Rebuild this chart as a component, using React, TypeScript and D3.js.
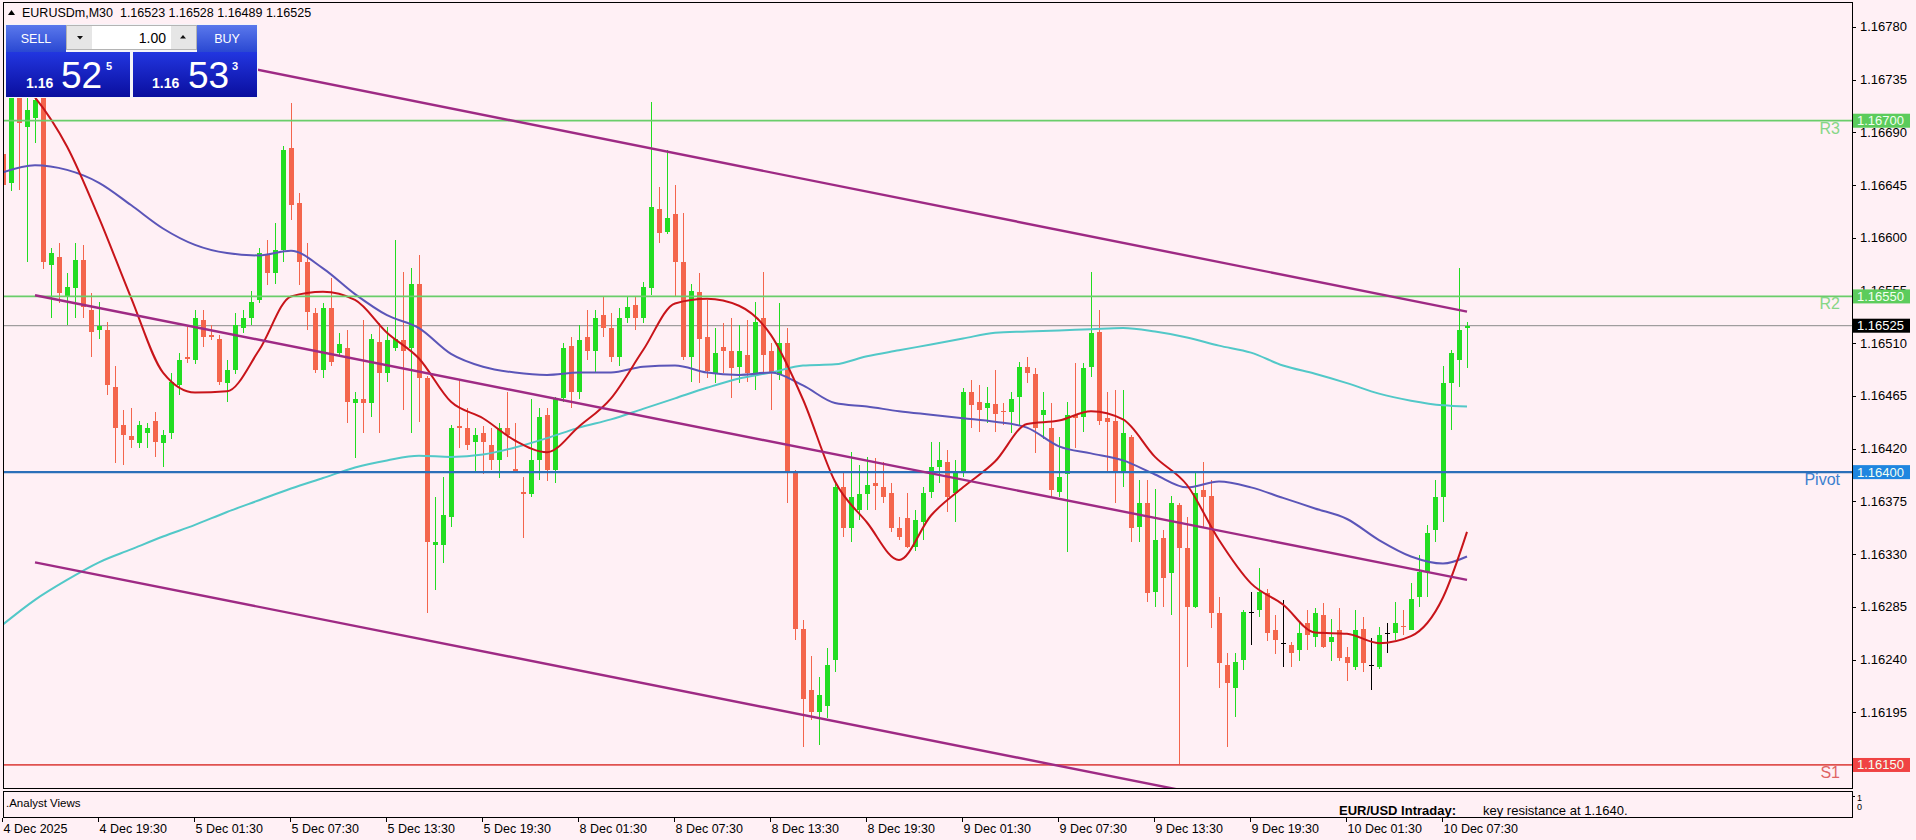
import React from 'react';
import * as d3 from 'd3';

// M30 bars, left to right
const opens = [
  1.16672, 1.16647, 1.16745, 1.16695, 1.16702, 1.16728, 1.16577, 1.16584, 1.16550, 1.16557,
  1.16581, 1.16538, 1.16521, 1.16521, 1.16473, 1.16440, 1.16431, 1.16425, 1.16433, 1.16444,
  1.16425, 1.16433, 1.16474, 1.16498, 1.16496, 1.16530, 1.16517, 1.16514, 1.16476, 1.16487,
  1.16523, 1.16532, 1.16547, 1.16585, 1.16570, 1.16590, 1.16677, 1.16630, 1.16579, 1.16536,
  1.16487, 1.16540, 1.16502, 1.16506, 1.16459, 1.16462, 1.16459, 1.16511, 1.16485, 1.16506,
  1.16513, 1.16506, 1.16561, 1.16480, 1.16338, 1.16338, 1.16362, 1.16439, 1.16438, 1.16426,
  1.16433, 1.16423, 1.16410, 1.16438, 1.16403, 1.16383, 1.16381, 1.16410, 1.16449, 1.16402,
  1.16463, 1.16508, 1.16468, 1.16515, 1.16503, 1.16534, 1.16523, 1.16498, 1.16532, 1.16543,
  1.16532, 1.16557, 1.16625, 1.16605, 1.16620, 1.16579, 1.16498, 1.16554, 1.16515, 1.16485,
  1.16507, 1.16503, 1.16490, 1.16500, 1.16483, 1.16532, 1.16503, 1.16483, 1.16510, 1.16399,
  1.16266, 1.16214, 1.16195, 1.16200, 1.16240, 1.16387, 1.16352, 1.16368, 1.16381, 1.16391,
  1.16387, 1.16382, 1.16352, 1.16361, 1.16336, 1.16357, 1.16383, 1.16404, 1.16409, 1.16382,
  1.16399, 1.16468, 1.16460, 1.16455, 1.16458, 1.16452, 1.16451, 1.16464, 1.16490, 1.16484,
  1.16449, 1.16438, 1.16383, 1.16398, 1.16449, 1.16447, 1.16490, 1.16520, 1.16446, 1.16444,
  1.16400, 1.16430, 1.16353, 1.16374, 1.16298, 1.16344, 1.16314, 1.16372, 1.16335, 1.16285,
  1.16385, 1.16380, 1.16280, 1.16235, 1.16216, 1.16240, 1.16281, 1.16282, 1.16297, 1.16265,
  1.16254, 1.16252, 1.16248, 1.16271, 1.16259, 1.16278, 1.16255, 1.16265, 1.16242, 1.16234,
  1.16266, 1.16235, 1.16234, 1.16263, 1.16263, 1.16269, 1.16265, 1.16293, 1.16315, 1.16351,
  1.16379, 1.16476, 1.16496, 1.16523,
];
const highs = [
  1.16680, 1.16760, 1.16770, 1.16730, 1.16745, 1.16745, 1.16591, 1.16596, 1.16570, 1.16596,
  1.16594, 1.16553, 1.16545, 1.16528, 1.16491, 1.16453, 1.16455, 1.16444, 1.16442, 1.16451,
  1.16436, 1.16485, 1.16502, 1.16524, 1.16538, 1.16538, 1.16526, 1.16517, 1.16496, 1.16536,
  1.16538, 1.16555, 1.16591, 1.16598, 1.16613, 1.16678, 1.16715, 1.16638, 1.16596, 1.16540,
  1.16544, 1.16566, 1.16519, 1.16521, 1.16468, 1.16530, 1.16518, 1.16527, 1.16524, 1.16598,
  1.16571, 1.16574, 1.16585, 1.16482, 1.16379, 1.16396, 1.16440, 1.16479, 1.16455, 1.16438,
  1.16439, 1.16438, 1.16442, 1.16468, 1.16442, 1.16396, 1.16462, 1.16455, 1.16455, 1.16464,
  1.16510, 1.16515, 1.16526, 1.16538, 1.16538, 1.16550, 1.16536, 1.16540, 1.16550, 1.16550,
  1.16562, 1.16716, 1.16643, 1.16675, 1.16645, 1.16621, 1.16561, 1.16570, 1.16547, 1.16523,
  1.16527, 1.16532, 1.16526, 1.16530, 1.16545, 1.16571, 1.16510, 1.16544, 1.16523, 1.16402,
  1.16274, 1.16243, 1.16225, 1.16250, 1.16391, 1.16400, 1.16417, 1.16406, 1.16413, 1.16412,
  1.16409, 1.16391, 1.16362, 1.16382, 1.16368, 1.16387, 1.16426, 1.16426, 1.16419, 1.16410,
  1.16472, 1.16479, 1.16474, 1.16473, 1.16487, 1.16459, 1.16468, 1.16494, 1.16498, 1.16489,
  1.16468, 1.16459, 1.16430, 1.16460, 1.16493, 1.16493, 1.16571, 1.16538, 1.16468, 1.16470,
  1.16470, 1.16432, 1.16393, 1.16393, 1.16386, 1.16351, 1.16380, 1.16374, 1.16362, 1.16400,
  1.16409, 1.16393, 1.16293, 1.16246, 1.16246, 1.16282, 1.16298, 1.16318, 1.16300, 1.16278,
  1.16291, 1.16255, 1.16272, 1.16282, 1.16284, 1.16288, 1.16275, 1.16284, 1.16251, 1.16282,
  1.16276, 1.16258, 1.16268, 1.16271, 1.16289, 1.16282, 1.16305, 1.16329, 1.16355, 1.16393,
  1.16491, 1.16504, 1.16574, 1.16528,
];
const lows = [
  1.16640, 1.16640, 1.16641, 1.16579, 1.16681, 1.16573, 1.16532, 1.16544, 1.16526, 1.16532,
  1.16532, 1.16498, 1.16514, 1.16466, 1.16408, 1.16406, 1.16421, 1.16421, 1.16421, 1.16413,
  1.16404, 1.16428, 1.16466, 1.16493, 1.16492, 1.16507, 1.16513, 1.16474, 1.16460, 1.16484,
  1.16519, 1.16526, 1.16544, 1.16560, 1.16561, 1.16579, 1.16615, 1.16560, 1.16521, 1.16485,
  1.16480, 1.16491, 1.16498, 1.16442, 1.16412, 1.16433, 1.16447, 1.16433, 1.16477, 1.16503,
  1.16453, 1.16433, 1.16443, 1.16280, 1.16299, 1.16322, 1.16353, 1.16421, 1.16419, 1.16399,
  1.16398, 1.16402, 1.16395, 1.16413, 1.16399, 1.16344, 1.16379, 1.16393, 1.16392, 1.16391,
  1.16460, 1.16455, 1.16462, 1.16496, 1.16485, 1.16515, 1.16494, 1.16491, 1.16527, 1.16521,
  1.16527, 1.16551, 1.16596, 1.16603, 1.16550, 1.16496, 1.16477, 1.16476, 1.16480, 1.16476,
  1.16485, 1.16463, 1.16476, 1.16477, 1.16470, 1.16485, 1.16453, 1.16479, 1.16374, 1.16257,
  1.16165, 1.16188, 1.16167, 1.16190, 1.16229, 1.16345, 1.16340, 1.16359, 1.16368, 1.16368,
  1.16374, 1.16349, 1.16342, 1.16335, 1.16333, 1.16342, 1.16378, 1.16391, 1.16366, 1.16357,
  1.16396, 1.16438, 1.16434, 1.16442, 1.16434, 1.16440, 1.16433, 1.16440, 1.16476, 1.16416,
  1.16428, 1.16379, 1.16379, 1.16332, 1.16421, 1.16434, 1.16481, 1.16440, 1.16400, 1.16374,
  1.16387, 1.16340, 1.16340, 1.16289, 1.16285, 1.16285, 1.16278, 1.16150, 1.16234, 1.16284,
  1.16353, 1.16267, 1.16216, 1.16165, 1.16191, 1.16231, 1.16252, 1.16276, 1.16256, 1.16245,
  1.16234, 1.16234, 1.16239, 1.16248, 1.16251, 1.16250, 1.16239, 1.16239, 1.16222, 1.16231,
  1.16229, 1.16214, 1.16232, 1.16246, 1.16257, 1.16261, 1.16265, 1.16285, 1.16293, 1.16340,
  1.16357, 1.16436, 1.16473, 1.16489,
];
const closes = [
  1.16645, 1.16735, 1.16698, 1.16709, 1.16718, 1.16579, 1.16587, 1.16553, 1.16558, 1.16581,
  1.16541, 1.16520, 1.16525, 1.16474, 1.16438, 1.16432, 1.16427, 1.16440, 1.16438, 1.16426,
  1.16432, 1.16477, 1.16496, 1.16497, 1.16532, 1.16515, 1.16515, 1.16477, 1.16487, 1.16526,
  1.16532, 1.16545, 1.16587, 1.16570, 1.16590, 1.16675, 1.16628, 1.16579, 1.16537, 1.16487,
  1.16540, 1.16494, 1.16509, 1.16460, 1.16462, 1.16459, 1.16514, 1.16485, 1.16513, 1.16514,
  1.16503, 1.16561, 1.16480, 1.16340, 1.16340, 1.16363, 1.16438, 1.16438, 1.16423, 1.16432,
  1.16426, 1.16410, 1.16438, 1.16432, 1.16401, 1.16381, 1.16410, 1.16447, 1.16402, 1.16463,
  1.16506, 1.16468, 1.16513, 1.16503, 1.16532, 1.16523, 1.16498, 1.16532, 1.16541, 1.16532,
  1.16558, 1.16626, 1.16604, 1.16617, 1.16579, 1.16498, 1.16555, 1.16514, 1.16486, 1.16502,
  1.16503, 1.16489, 1.16503, 1.16485, 1.16528, 1.16500, 1.16485, 1.16510, 1.16400, 1.16266,
  1.16206, 1.16195, 1.16210, 1.16235, 1.16387, 1.16352, 1.16379, 1.16381, 1.16389, 1.16388,
  1.16379, 1.16352, 1.16345, 1.16336, 1.16359, 1.16382, 1.16404, 1.16410, 1.16379, 1.16399,
  1.16468, 1.16457, 1.16453, 1.16459, 1.16450, 1.16451, 1.16462, 1.16490, 1.16485, 1.16438,
  1.16453, 1.16385, 1.16396, 1.16449, 1.16446, 1.16489, 1.16519, 1.16444, 1.16443, 1.16400,
  1.16433, 1.16352, 1.16374, 1.16297, 1.16342, 1.16310, 1.16374, 1.16335, 1.16285, 1.16382,
  1.16379, 1.16280, 1.16237, 1.16220, 1.16238, 1.16281, 1.16281, 1.16298, 1.16263, 1.16257,
  1.16254, 1.16246, 1.16263, 1.16261, 1.16280, 1.16251, 1.16259, 1.16241, 1.16237, 1.16265,
  1.16237, 1.16235, 1.16261, 1.16263, 1.16271, 1.16268, 1.16292, 1.16315, 1.16348, 1.16379,
  1.16476, 1.16502, 1.16521, 1.16525,
];

// moving averages, sampled every 4 bars
const fastMa = [
  1.16735, 1.16720, 1.16678, 1.16617, 1.16549, 1.16485, 1.16468, 1.16469, 1.16504, 1.16550,
  1.16554, 1.16547, 1.16519, 1.16497, 1.16460, 1.16446, 1.16427, 1.16417, 1.16439, 1.16463,
  1.16504, 1.16544, 1.16548, 1.16542, 1.16517, 1.16462, 1.16392, 1.16357, 1.16325, 1.16363,
  1.16387, 1.16409, 1.16441, 1.16444, 1.16452, 1.16445, 1.16413, 1.16389, 1.16342, 1.16305,
  1.16287, 1.16263, 1.16262, 1.16254, 1.16260, 1.16293, 1.16349,
];
const midMa = [
  1.16656, 1.16662, 1.16658, 1.16647, 1.16628, 1.16608, 1.16594, 1.16587, 1.16585, 1.16589,
  1.16574, 1.16552, 1.16534, 1.16523, 1.16501, 1.16490, 1.16485, 1.16483, 1.16485, 1.16485,
  1.16490, 1.16491, 1.16485, 1.16483, 1.16485, 1.16474, 1.16459, 1.16456, 1.16452, 1.16449,
  1.16446, 1.16443, 1.16438, 1.16422, 1.16416, 1.16410, 1.16398, 1.16387, 1.16392, 1.16387,
  1.16378, 1.16369, 1.16360, 1.16342, 1.16328, 1.16322, 1.16328,
];
const slowMa = [
  1.16270, 1.16291, 1.16308, 1.16323, 1.16334, 1.16345, 1.16355, 1.16366, 1.16376, 1.16386,
  1.16395, 1.16404, 1.16410, 1.16414, 1.16413, 1.16415, 1.16421, 1.16429, 1.16438, 1.16445,
  1.16454, 1.16463, 1.16472, 1.16480, 1.16485, 1.16491, 1.16492, 1.16499, 1.16504, 1.16509,
  1.16514, 1.16519, 1.16520, 1.16521, 1.16522, 1.16523, 1.16520, 1.16515, 1.16508, 1.16502,
  1.16491, 1.16484, 1.16476, 1.16467, 1.16461, 1.16457, 1.16456,
];

const levelNames = ['R3', 'R2', 'Pivot', 'S1'];
const levelPrices = [1.167, 1.1655, 1.164, 1.1615];
const levelColors = ['#6acd6a', '#6acd6a', '#2b6fb9', '#e0524f'];
const levelText = ['#86d686', '#86d686', '#3d80cf', '#e06464'];
const levelTag = ['#5ccc5c', '#5ccc5c', '#1f86e0', '#f04343'];

// channel lines: [start bar, start price, end bar, end price]
const trendStartBars = [30, 4, 4];
const trendStartPrices = [1.16746, 1.16551, 1.16323];
const trendEndBars = [183, 183, 183];
const trendEndPrices = [1.16537, 1.16308, 1.1608];

const priceTicks = [
  1.1678, 1.16735, 1.1669, 1.16645, 1.166, 1.16555, 1.1651, 1.16465,
  1.1642, 1.16375, 1.1633, 1.16285, 1.1624, 1.16195, 1.1615,
];
const timeLabels = [
  '4 Dec 2025', '4 Dec 19:30', '5 Dec 01:30', '5 Dec 07:30', '5 Dec 13:30', '5 Dec 19:30',
  '8 Dec 01:30', '8 Dec 07:30', '8 Dec 13:30', '8 Dec 19:30', '9 Dec 01:30', '9 Dec 07:30',
  '9 Dec 13:30', '9 Dec 19:30', '10 Dec 01:30', '10 Dec 07:30',
];
const lastPrice = 1.16525;

const FONT = "'Liberation Sans', Arial, sans-serif";
const BG = '#fff0f5';
const UP = '#22dd22';
const DOWN = '#f4654c';

const L = 3, R = 1852, T = 2, B = 788;

export default function App() {
  const x = d3.scaleLinear().domain([0, opens.length - 1]).range([3, 1467]);
  const y = d3.scaleLinear().domain([1.1613, 1.16801]).range([788.4, 2.4]);

  const maBars = d3.range(0, 181, 4).concat([183]);
  const fastBars = [2].concat(d3.range(4, 181, 4), [183]);
  const path = (bs: number[], vals: number[]) =>
    d3.line<number>().x((_, j) => x(bs[j])).y(v => y(v)).curve(d3.curveMonotoneX)(vals) || '';

  const timeBars = timeLabels.map((_, j) => j * 12);

  return (
    <svg width={1916} height={840} style={{ position: 'absolute', left: 0, top: 0 }} fontFamily={FONT}>
      <defs>
        <clipPath id="plot"><rect x={L} y={T} width={R - L} height={B - T} /></clipPath>
        <clipPath id="sub"><rect x={L} y={791} width={R - L} height={26} /></clipPath>
        <linearGradient id="btn" x1="0" y1="0" x2="0" y2="1">
          <stop offset="0" stopColor="#5a78ec" />
          <stop offset="1" stopColor="#2a48d2" />
        </linearGradient>
        <linearGradient id="px" x1="0" y1="0" x2="0" y2="1">
          <stop offset="0" stopColor="#2236e0" />
          <stop offset="1" stopColor="#0a0e9e" />
        </linearGradient>
      </defs>
      <rect x={0} y={0} width={1916} height={840} fill={BG} />

      <g clipPath="url(#plot)">
        {/* current price line */}
        <line x1={L} x2={R} y1={y(lastPrice)} y2={y(lastPrice)} stroke="#8a8a8a" strokeWidth={1} />

        {/* candles */}
        {opens.map((o, i) => {
          const c = closes[i];
          const cx = Math.round(x(i));
          const col = c > o ? UP : c < o ? DOWN : '#000';
          const top = y(Math.max(o, c));
          const bot = y(Math.min(o, c));
          return (
            <g key={i} shapeRendering="crispEdges">
              <line x1={cx + 0.5} x2={cx + 0.5} y1={y(highs[i])} y2={y(lows[i])} stroke={col} strokeWidth={1} />
              <rect x={cx - 2} y={top} width={5} height={Math.max(1, bot - top)} fill={col} />
            </g>
          );
        })}

        {/* moving averages */}
        <path d={path(maBars, slowMa)} fill="none" stroke="#52c8c8" strokeWidth={2} />
        <path d={path(maBars, midMa)} fill="none" stroke="#5b55b8" strokeWidth={2} />
        <path d={path(fastBars, fastMa)} fill="none" stroke="#c8141a" strokeWidth={2} />

        {/* levels */}
        {levelPrices.map((p, j) => (
          <g key={levelNames[j]}>
            <line x1={L} x2={R} y1={y(p)} y2={y(p)} stroke={levelColors[j]} strokeWidth={j === 2 ? 2.2 : 1.7} />
            <text x={1840} y={y(p) + 13} textAnchor="end" fontSize={16} fill={levelText[j]}>{levelNames[j]}</text>
          </g>
        ))}

        {/* channel */}
        {trendStartBars.map((b, j) => (
          <line key={j} x1={x(b)} y1={y(trendStartPrices[j])} x2={x(trendEndBars[j])} y2={y(trendEndPrices[j])}
            stroke="#9e2a84" strokeWidth={2.4} />
        ))}
      </g>

      {/* frames */}
      <rect x={L + 0.5} y={T + 0.5} width={R - L} height={B - T} fill="none" stroke="#000" strokeWidth={1} />
      <rect x={L + 0.5} y={791.5} width={R - L} height={26} fill="none" stroke="#000" strokeWidth={1} />

      {/* header */}
      <path d="M8,15 L11.5,10 L15,15 Z" fill="#000" />
      <text x={22} y={17} fontSize={12.5} fill="#000" style={{ whiteSpace: 'pre' }}>
        {'EURUSDm,M30  1.16523 1.16528 1.16489 1.16525'}
      </text>

      {/* trade panel */}
      <g>
        <rect x={5} y={24} width={253} height={74} fill="#f4f4f8" />
        <rect x={6} y={25} width={60} height={27} fill="url(#btn)" />
        <text x={36} y={43} textAnchor="middle" fontSize={12.5} fill="#fff">SELL</text>
        <rect x={197} y={25} width={60} height={27} fill="url(#btn)" />
        <text x={227} y={43} textAnchor="middle" fontSize={12.5} fill="#fff">BUY</text>
        <rect x={66.5} y={25.5} width={130} height={24} fill="#fff" stroke="#b4b4b4" />
        <rect x={67} y={26} width={25} height={23} fill="#e6e6e6" />
        <rect x={171} y={26} width={25} height={23} fill="#e6e6e6" />
        <path d="M77,36 L83,36 L80,39.5 Z" fill="#111" />
        <path d="M180,38.5 L186,38.5 L183,35 Z" fill="#111" />
        <text x={166} y={43} textAnchor="end" fontSize={14} fill="#000">1.00</text>

        <rect x={6} y={52} width={124} height={45} fill="url(#px)" />
        <rect x={133} y={52} width={124} height={45} fill="url(#px)" />
        <text x={26} y={88} fontSize={14} fontWeight="bold" fill="#fff">1.16</text>
        <text x={61} y={88} fontSize={37} fill="#fff">52</text>
        <text x={106} y={70} fontSize={11} fontWeight="bold" fill="#fff">5</text>
        <text x={152} y={88} fontSize={14} fontWeight="bold" fill="#fff">1.16</text>
        <text x={188} y={88} fontSize={37} fill="#fff">53</text>
        <text x={232} y={70} fontSize={11} fontWeight="bold" fill="#fff">3</text>
      </g>

      {/* price axis */}
      {priceTicks.map(p => (
        <g key={p}>
          <line x1={R} x2={R + 4} y1={Math.round(y(p)) + 0.5} y2={Math.round(y(p)) + 0.5} stroke="#000" />
          <text x={1860} y={y(p) + 4.5} fontSize={13} fill="#000">{p.toFixed(5)}</text>
        </g>
      ))}
      {levelPrices.map((p, j) => (
        <g key={'tag' + j}>
          <rect x={1853} y={y(p) - 7} width={57} height={14} fill={levelTag[j]} />
          <text x={1857} y={y(p) + 4.5} fontSize={13} fill="#f2fff2">{p.toFixed(5)}</text>
        </g>
      ))}
      <rect x={1853} y={y(lastPrice) - 7} width={57} height={14} fill="#000" />
      <text x={1857} y={y(lastPrice) + 4.5} fontSize={13} fill="#fff">{lastPrice.toFixed(5)}</text>

      {/* sub window */}
      <text x={6} y={807} fontSize={11.5} fill="#000">.Analyst Views</text>
      <g clipPath="url(#sub)">
        <text x={1339} y={815} fontSize={13} fontWeight="bold" fill="#000">EUR/USD Intraday:</text>
        <text x={1483} y={815} fontSize={13} fill="#000">key resistance at 1.1640.</text>
      </g>
      <line x1={R} x2={R + 3} y1={796.5} y2={796.5} stroke="#000" />
      <text x={1857} y={801} fontSize={9} fill="#000">1</text>
      <text x={1857} y={810} fontSize={9} fill="#000">0</text>

      {/* time axis */}
      {timeLabels.map((t, j) => {
        const tx = Math.round(x(timeBars[j])) - 0.5;
        return (
          <g key={t}>
            <line x1={tx} x2={tx} y1={818} y2={822} stroke="#000" />
            <text x={tx + 1} y={833} fontSize={12.5} fill="#000">{t}</text>
          </g>
        );
      })}
    </svg>
  );
}
